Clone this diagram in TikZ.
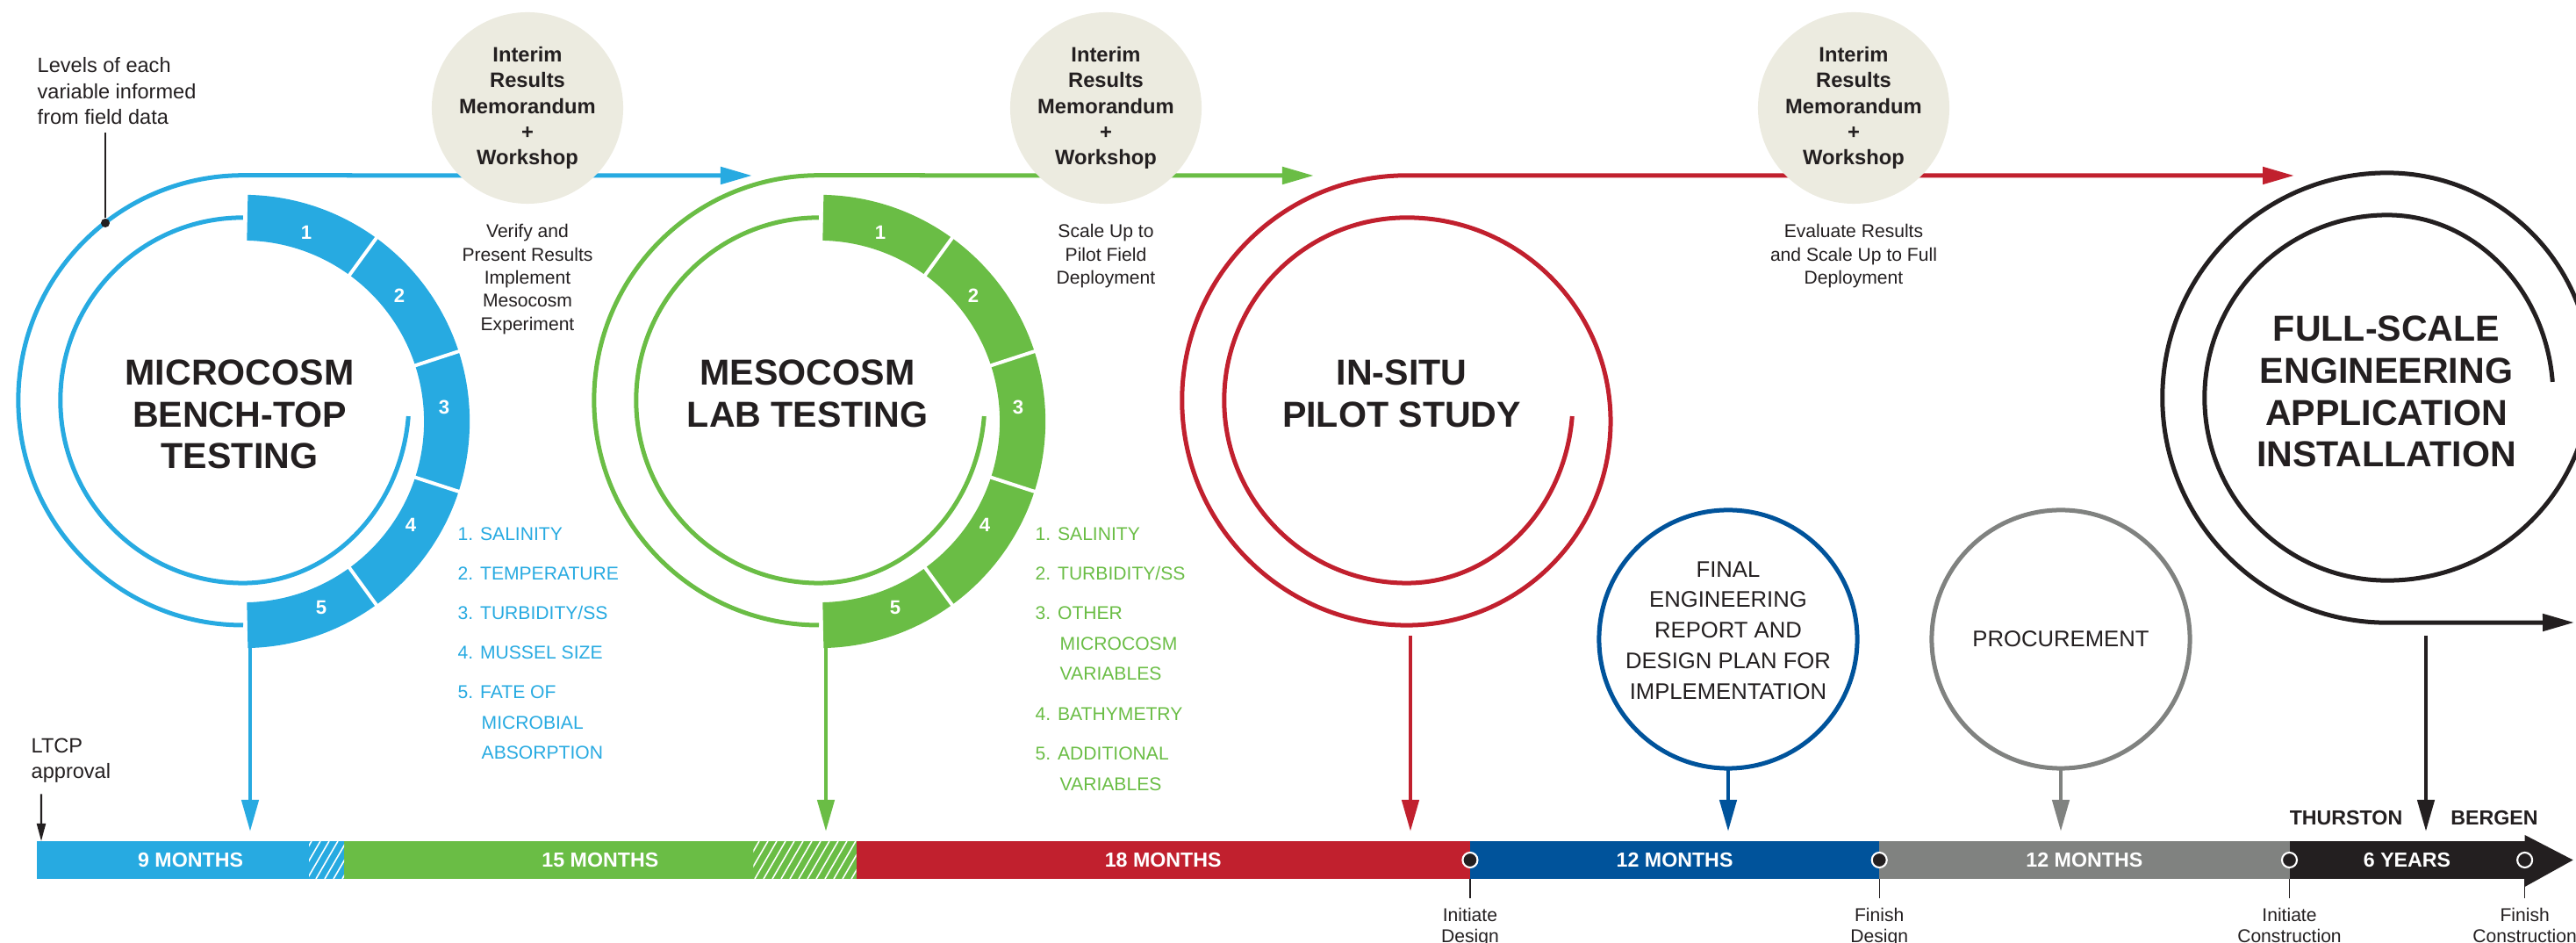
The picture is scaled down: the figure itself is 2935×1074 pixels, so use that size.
\documentclass[tikz,border=0pt]{standalone}
\usepackage{fontspec}
\setmainfont{Liberation Sans}
\usetikzlibrary{arrows.meta,positioning}

\definecolor{micro}{RGB}{39,170,225}
\definecolor{meso}{RGB}{106,189,69}
\definecolor{pilot}{RGB}{193,32,46}
\definecolor{design}{RGB}{0,83,155}
\definecolor{procure}{RGB}{128,130,128}
\definecolor{build}{RGB}{35,31,32}
\definecolor{memo}{RGB}{236,235,224}

\tikzset{
  spiralline/.style={line width=0.05cm},
  flow/.style={line width=0.05cm, -{Triangle[length=0.36cm,width=0.19cm]}},
  dropline/.style={line width=0.045cm, shorten >=0.11cm, -{Triangle[length=0.36cm,width=0.19cm]}},
  bubble/.style={circle, fill=memo, minimum size=2.18cm, inner sep=0, align=center, text=build,
    font=\bfseries\fontsize{6.75}{8.3}\selectfont},
  caption/.style={align=center, inner sep=0, text=build, font=\fontsize{6}{7.5}\selectfont},
  phasetitle/.style={align=center, inner sep=0, text=build, font=\bfseries\fontsize{11.7}{13.6}\selectfont},
  bar/.style={anchor=west, minimum height=0.43cm, inner sep=0, outer sep=0, text=white,
    font=\bfseries\fontsize{6.6}{7}\selectfont},
  varitem/.style={anchor=base west, inner sep=0, font=\fontsize{6}{7}\selectfont},
  segnum/.style={inner sep=0, text=white, font=\bfseries\fontsize{6.3}{7}\selectfont},
  milestone/.style={circle, fill=build, draw=white, line width=0.6pt, minimum size=0.17cm, inner sep=0},
  mstick/.style={line width=0.35pt, build},
  smalltext/.style={align=center, inner sep=0, text=build, font=\fontsize{6}{6.6}\selectfont},
  stage/.style={circle, line width=0.05cm, minimum size=2.94cm, inner sep=0, outer sep=0, text=build,
    align=center, font=\fontsize{7.3}{9.9}\selectfont}
}

\begin{document}
\begin{tikzpicture}[x=0.01cm, y=0.01cm]
  \useasboundingbox (0,0) rectangle (2935,-1074);

  % microcosm spiral
  \draw[micro, spiralline] (465.3,-474.1) arc[start angle=-5, end angle=-90, x radius=1.89cm, y radius=2.08cm]
    arc[start angle=270, end angle=90, radius=2.08cm];
  \begin{scope}[shift={(277,-480)}]
    \fill[micro] (88.8:2.58cm) arc[start angle=88.8, end angle=-88.8, radius=2.58cm]
      -- (-88.8:2.06cm) arc[start angle=-88.8, end angle=88.8, radius=2.06cm] -- cycle;
    \foreach \a in {54,18,-18,-54} \draw[white, line width=0.04cm] (\a:2.0cm) -- (\a:2.65cm);
    \foreach \n/\p/\q in {1/72/215, 2/178/143, 3/229/16, 4/191/-118, 5/89/-212}
      \node[segnum] (micro-\n) at (\p,\q) {\n};
  \end{scope}
  \draw[micro, flow] (277,-712) arc[start angle=270, end angle=90, radius=2.56cm] -- (857,-200);
  \coordinate (micro-out) at (285,-738);

  % mesocosm spiral
  \draw[meso, spiralline] (1121.3,-474.1) arc[start angle=-5, end angle=-90, x radius=1.89cm, y radius=2.08cm]
    arc[start angle=270, end angle=90, radius=2.08cm];
  \begin{scope}[shift={(933,-480)}]
    \fill[meso] (88.8:2.58cm) arc[start angle=88.8, end angle=-88.8, radius=2.58cm]
      -- (-88.8:2.06cm) arc[start angle=-88.8, end angle=88.8, radius=2.06cm] -- cycle;
    \foreach \a in {54,18,-18,-54} \draw[white, line width=0.04cm] (\a:2.0cm) -- (\a:2.65cm);
    \foreach \n/\p/\q in {1/70/215, 2/176/143, 3/227/16, 4/189/-118, 5/87/-212}
      \node[segnum] (meso-\n) at (\p,\q) {\n};
  \end{scope}
  \draw[meso, flow] (933,-712) arc[start angle=270, end angle=90, radius=2.56cm] -- (1497,-200);
  \coordinate (meso-out) at (941,-738);

  % in-situ spiral
  \draw[pilot, flow] (1791.3,-474.1) arc[start angle=-5, end angle=-90, x radius=1.89cm, y radius=2.08cm]
    arc[start angle=270, end angle=90, radius=2.08cm]
    arc[start angle=90, end angle=-90, radius=2.32cm]
    arc[start angle=270, end angle=90, radius=2.56cm] -- (2614,-200);
  \coordinate (pilot-out) at (1607,-724);

  % full-scale spiral
  \draw[build, flow] (2908.3,-434.9) arc[start angle=5, end angle=90, x radius=1.89cm, y radius=2.08cm]
    arc[start angle=90, end angle=270, radius=2.08cm]
    arc[start angle=270, end angle=450, radius=2.32cm]
    arc[start angle=90, end angle=270, radius=2.56cm] -- (2933,-709);
  \coordinate (build-out) at (2764,-724);

  % memoranda
  \node[bubble] (memo1) at (601,-123) {Interim\\Results\\Memorandum\\+\\Workshop};
  \node[caption, below=0.22cm of memo1] (verify) {Verify and\\Present Results\\Implement\\Mesocosm\\Experiment};
  \node[bubble] (memo2) at (1260,-123) {Interim\\Results\\Memorandum\\+\\Workshop};
  \node[caption, below=0.22cm of memo2] (scaleup) {Scale Up to\\Pilot Field\\Deployment};
  \node[bubble] (memo3) at (2112,-123) {Interim\\Results\\Memorandum\\+\\Workshop};
  \node[caption, below=0.22cm of memo3] (evaluate) {Evaluate Results\\and Scale Up to Full\\Deployment};

  % phase titles
  \node[phasetitle] (microcosm) at (273,-472) {MICROCOSM\\BENCH-TOP\\TESTING};
  \node[phasetitle] (mesocosm) at (920,-448.5) {MESOCOSM\\LAB TESTING};
  \node[phasetitle] (insitu) at (1597,-448) {IN-SITU\\PILOT STUDY};
  \node[phasetitle] (fullscale) at (2719,-446) {FULL-SCALE\\ENGINEERING\\APPLICATION\\INSTALLATION};

  % variables
  \foreach \x/\y/\t [count=\i] in {521/615.6/{1. SALINITY}, 521/660.6/{2. TEMPERATURE}, 521/705.6/{3. TURBIDITY/SS},
      521/750.6/{4. MUSSEL SIZE}, 521/795.6/{5. FATE OF}, 548/830.6/MICROBIAL, 548/864.6/ABSORPTION}
    \node[varitem, text=micro] (microvar\i) at (\x,-\y) {\t};
  \foreach \x/\y/\t [count=\i] in {1179/615.6/{1. SALINITY}, 1179/660.6/{2. TURBIDITY/SS}, 1179/705.6/{3. OTHER},
      1207/740.6/MICROCOSM, 1207/774.6/VARIABLES, 1179/820.6/{4. BATHYMETRY}, 1179/865.6/{5. ADDITIONAL},
      1207/900.6/VARIABLES}
    \node[varitem, text=meso] (mesovar\i) at (\x,-\y) {\t};

  % field data note
  \node[anchor=north west, inner sep=0, align=left, text=build, font=\fontsize{6.7}{8.4}\selectfont] (levels)
    at (42,-65) {Levels of each\\variable informed\\from field data};
  \node[circle, fill=build, minimum size=0.1cm, inner sep=0] (levdot) at (120,-254) {};
  \coordinate (levtop) at (120,-151);
  \draw[build, line width=0.6pt] (levtop) -- (levdot);

  % timeline
  \node[bar, fill=micro, minimum width=3.5cm] (nine) at (42,-979.5) {9 MONTHS};
  \node[bar, fill=meso, minimum width=5.83cm, right=0cm of nine] (fifteen) {15 MONTHS};
  \node[bar, fill=pilot, minimum width=6.99cm, right=0cm of fifteen] (eighteen) {18 MONTHS};
  \node[bar, fill=design, minimum width=4.66cm, right=0cm of eighteen] (twelveA) {12 MONTHS};
  \node[bar, fill=procure, minimum width=4.67cm, right=0cm of twelveA] (twelveB) {12 MONTHS};
  \node[bar, fill=build, minimum width=2.68cm, right=0cm of twelveB] (six) {6 YEARS};
  \fill[build] ([yshift=0.07cm]six.north east) -- ([xshift=0.55cm]six.east) -- ([yshift=-0.09cm]six.south east) -- cycle;

  \begin{scope}
    \clip ([xshift=-0.4cm]nine.north east) rectangle (nine.south east);
    \foreach \x in {320,330,...,390} \draw[white, line width=0.45pt] (\x,-1001) -- ++(25,43);
  \end{scope}
  \begin{scope}
    \clip ([xshift=-1.17cm]fifteen.north east) rectangle (fifteen.south east);
    \foreach \x in {830,840,...,970} \draw[white, line width=0.45pt] (\x,-1001) -- ++(25,43);
  \end{scope}

  \node[milestone] (m1) at (eighteen.east) {};
  \node[milestone] (m2) at (twelveA.east) {};
  \node[milestone] (m3) at (twelveB.east) {};
  \node[milestone] (m4) at (six.east) {};
  \foreach \m/\t in {m1/{Initiate\\Design}, m2/{Finish\\Design}, m3/{Initiate\\Construction}, m4/{Finish\\Construction}}
    \draw[mstick] (\m |- six.south) -- ++(0,-22) node[smalltext, below=0.11cm] (\m-label) {\t};

  \node[anchor=north west, inner sep=0, align=left, text=build, font=\fontsize{6.7}{8.4}\selectfont] (ltcp)
    at (35,-840) {LTCP\\approval};
  \draw[build, line width=0.6pt, -{Triangle[length=0.2cm,width=0.1cm]}]
    ([xshift=0.12cm,yshift=-0.12cm]ltcp.south west) -- ([xshift=0.05cm]nine.north west);

  \node[inner sep=0, text=build, font=\bfseries\fontsize{6.6}{7}\selectfont] (thurston) at (2673,-932) {THURSTON};
  \node[inner sep=0, text=build, font=\bfseries\fontsize{6.6}{7}\selectfont] (bergen) at (2842,-932) {BERGEN};

  % design and procurement
  \node[stage, draw=design] (final) at (1969,-728) {};
  \node[smalltext, font=\fontsize{7.3}{9.9}\selectfont] (finaltext) at ([yshift=0.1cm]final.center)
    {FINAL\\ENGINEERING\\REPORT AND\\DESIGN PLAN FOR\\IMPLEMENTATION};
  \node[stage, draw=procure] (procurement) at (2348,-728) {PROCUREMENT};

  % arrows down to the timeline
  \draw[micro, dropline] (micro-out) -- (micro-out |- nine.north);
  \draw[meso, dropline] (meso-out) -- (meso-out |- fifteen.north);
  \draw[pilot, dropline] (pilot-out) -- (pilot-out |- eighteen.north);
  \draw[design, dropline] (final.south) -- (final.south |- twelveA.north);
  \draw[procure, dropline] (procurement.south) -- (procurement.south |- twelveB.north);
  \draw[build, dropline] (build-out) -- (build-out |- six.north);
\end{tikzpicture}
\end{document}
